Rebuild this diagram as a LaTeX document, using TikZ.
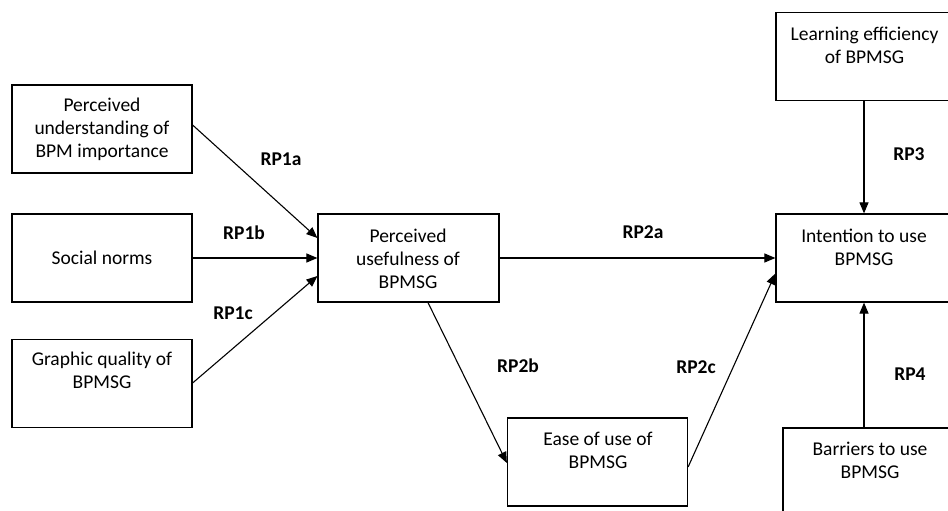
\documentclass[tikz,border=0pt]{standalone}
\usepackage{fontspec}
\setmainfont{Carlito}
\usetikzlibrary{arrows.meta,calc}
\begin{document}
\begin{tikzpicture}[x=1pt,y=-1pt,
  box/.style={draw, line width=1.2pt, minimum width=180pt, minimum height=88pt, inner sep=0pt},
  txt/.style={align=center, font=\fontsize{19.5}{23}\selectfont, inner sep=0pt},
  lbl/.style={font=\fontsize{19.5}{23}\selectfont\bfseries, inner sep=0pt},
  arr/.style={line width=1.1pt, -{Triangle[length=11pt,width=9pt]}}]
\useasboundingbox (0,0) rectangle (948,511);
\clip (0,0) rectangle (948,511);
\fill[white] (0,0) rectangle (948,511);
% boxes
\node[box] (b1) at (102,129) {};
\node[box] (b2) at (102,258) {};
\node[box] (b3) at (102,383.5) {};
\node[box, minimum width=181pt] (pu) at (408.5,258) {};
\node[box] (ease) at (597.5,462) {};
\node[box] (learn) at (866,56.5) {};
\node[box] (intent) at (866,258) {};
\node[box] (barr) at (873,472) {};
% texts
\node[txt] (t1) at (102,129) {Perceived\\understanding of\\BPM importance};
\node[txt] (t2) at (102,257.5) {Social norms};
\node[txt] (t3) at (102,370.5) {Graphic quality of\\BPMSG};
\node[txt] (tpu) at (408,259) {Perceived\\usefulness of\\BPMSG};
\node[txt] (tease) at (598,450.5) {Ease of use of\\BPMSG};
\node[txt] (tlearn) at (864.5,45.5) {Learning efficiency\\of BPMSG};
\node[txt] (tintent) at (864,247.5) {Intention to use\\BPMSG};
\node[txt] (tbarr) at (870,460.5) {Barriers to use\\BPMSG};
% connectors
\draw[arr] ($(b1.east)+(0,-4)$) -- ($(pu.west)+(0,-20)$);
\draw[arr] (b2.east) -- (pu.west);
\draw[arr] ($(b3.east)+(0,-0.5)$) -- ($(pu.west)+(0,18)$);
\draw[arr] (pu.east) -- (intent.west);
\draw[arr] ($(pu.south)+(19.5,0)$) -- ($(ease.west)+(0,1)$);
\draw[arr] ($(ease.east)+(0,5)$) -- ($(intent.west)+(0,15.5)$);
\draw[arr] ($(learn.south)+(-2,0)$) -- ($(intent.north)+(-2,0)$);
\draw[arr] ($(barr.north)+(-9,0)$) -- ($(intent.south)+(-2,0)$);
% labels
\node[lbl] (l1a) at (281,159) {RP1a};
\node[lbl] (l1b) at (244,233) {RP1b};
\node[lbl] (l1c) at (233,313) {RP1c};
\node[lbl] (l2a) at (643,232) {RP2a};
\node[lbl] (l2b) at (518,366) {RP2b};
\node[lbl] (l2c) at (696,367) {RP2c};
\node[lbl] (l3) at (909,154) {RP3};
\node[lbl] (l4) at (910,374) {RP4};
\end{tikzpicture}
\end{document}
